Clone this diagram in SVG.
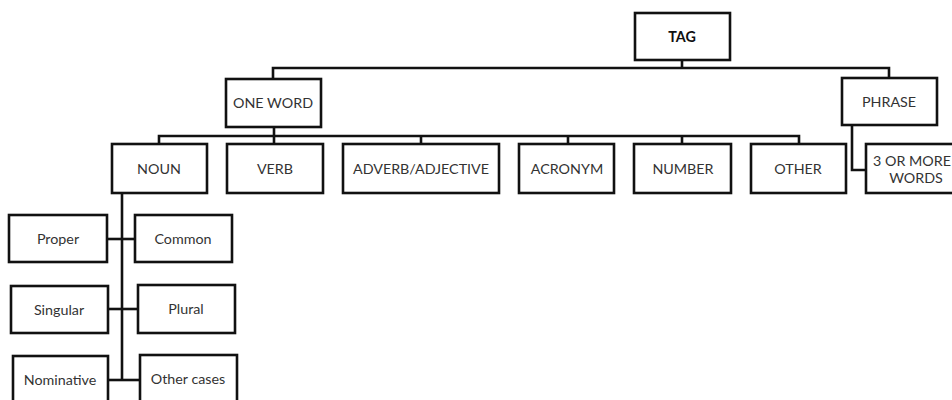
<svg xmlns="http://www.w3.org/2000/svg" width="952" height="400" viewBox="0 0 952 400">
<style>
.box{fill:#fff;stroke:#111;stroke-width:2.6}
.t{font-family:Lato,"Open Sans","Liberation Sans",sans-serif;font-size:14.3px;fill:#333;text-anchor:middle;dominant-baseline:central}
.tb{font-weight:bold;fill:#111}
.c{fill:none;stroke:#111;stroke-width:2.6}
</style>
<rect x="0" y="0" width="952" height="400" fill="#fff"/>
<g id="connectors">
<polyline class="c" points="682,60 682,68"/>
<polyline class="c" points="273,78 273,68 889,68 889,78"/>
<polyline class="c" points="159,144 159,136 799,136 799,144"/>
<polyline class="c" points="274,127 274,144"/>
<polyline class="c" points="421,136 421,144"/>
<polyline class="c" points="568,136 568,144"/>
<polyline class="c" points="682,136 682,144"/>
<polyline class="c" points="852,125 852,170 866,170"/>
<polyline class="c" points="122,193 122,380"/>
<polyline class="c" points="107,239 135,239"/>
<polyline class="c" points="108,309 138,309"/>
<polyline class="c" points="108,380 140,380"/>
</g>
<g id="tag"><rect class="box" x="635" y="13" width="95" height="47"/><text class="t tb" x="682" y="36">TAG</text></g>
<g id="one-word"><rect class="box" x="226" y="79" width="95" height="48"/><text class="t" x="273" y="102">ONE WORD</text></g>
<g id="phrase"><rect class="box" x="842" y="78" width="95" height="47"/><text class="t" x="889" y="101">PHRASE</text></g>
<g id="noun"><rect class="box" x="112" y="144" width="95" height="49"/><text class="t" x="159" y="168">NOUN</text></g>
<g id="verb"><rect class="box" x="227" y="144" width="96" height="49"/><text class="t" x="275" y="168">VERB</text></g>
<g id="adverb-adjective"><rect class="box" x="343" y="144" width="156" height="49"/><text class="t" x="421" y="168">ADVERB/ADJECTIVE</text></g>
<g id="acronym"><rect class="box" x="519" y="144" width="95" height="49"/><text class="t" x="567" y="168">ACRONYM</text></g>
<g id="number"><rect class="box" x="634" y="144" width="97" height="49"/><text class="t" x="683" y="168">NUMBER</text></g>
<g id="other"><rect class="box" x="751" y="144" width="95" height="49"/><text class="t" x="798" y="168">OTHER</text></g>
<g id="three-or-more"><rect class="box" x="866" y="144" width="95" height="49"/><text class="t" x="912" y="160">3 OR MORE</text><text class="t" x="916" y="177">WORDS</text></g>
<g id="proper"><rect class="box" x="9" y="215" width="98" height="47"/><text class="t" x="58" y="238">Proper</text></g>
<g id="common"><rect class="box" x="135" y="215" width="97" height="47"/><text class="t" x="183" y="238">Common</text></g>
<g id="singular"><rect class="box" x="11" y="286" width="97" height="47"/><text class="t" x="59" y="309">Singular</text></g>
<g id="plural"><rect class="box" x="138" y="285" width="97" height="48"/><text class="t" x="186" y="308">Plural</text></g>
<g id="nominative"><rect class="box" x="13" y="356" width="95" height="48"/><text class="t" x="60" y="379">Nominative</text></g>
<g id="other-cases"><rect class="box" x="140" y="355" width="97" height="48"/><text class="t" x="188" y="378">Other cases</text></g>
</svg>
